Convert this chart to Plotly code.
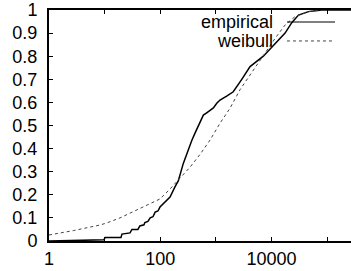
import plotly.graph_objects as go

# Empirical CDF
emp_x = [1, 3.6, 9.7, 10.2, 19.7, 20.5, 28.6, 31, 39.7, 43, 51, 53, 60, 66, 74, 81, 91, 99,
         122, 150, 185, 211, 260, 300, 369, 422, 520, 596, 684, 787, 903, 1038, 1188, 1564,
         2055, 2923, 4121, 7147, 12000, 17570, 23190, 30600, 46300, 80000, 300000]
emp_y = [0.0, 0.002, 0.005, 0.015, 0.015, 0.03, 0.035, 0.05, 0.05, 0.065, 0.07, 0.08, 0.085,
         0.10, 0.105, 0.125, 0.13, 0.147, 0.17, 0.19, 0.235, 0.26, 0.336, 0.38, 0.435, 0.467,
         0.51, 0.545, 0.555, 0.567, 0.576, 0.596, 0.61, 0.627, 0.646, 0.70, 0.755, 0.80,
         0.855, 0.9, 0.945, 0.978, 0.993, 1.0, 1.0]

# Weibull fit
wb_x = [1, 2.74, 8.2, 10.9, 18.9, 43, 99, 150, 223, 344, 520, 787, 1188, 1800, 2720, 4121,
        5400, 7700, 11610, 17570, 26400, 45800, 75000, 140000, 300000]
wb_y = [0.026, 0.045, 0.069, 0.078, 0.10, 0.14, 0.182, 0.225, 0.271, 0.32, 0.375, 0.437,
        0.51, 0.575, 0.655, 0.72, 0.762, 0.812, 0.877, 0.935, 0.971, 0.993, 0.999, 1.0, 1.0]

x_tickvals = [1, 10, 100, 1000, 10000, 100000]
x_ticktext = ["1", "", "100", "", "10000", ""]
y_tickvals = [0, 0.1, 0.2, 0.3, 0.4, 0.5, 0.6, 0.7, 0.8, 0.9, 1]
y_ticktext = ["0", "0.1", "0.2", "0.3", "0.4", "0.5", "0.6", "0.7", "0.8", "0.9", "1"]
legend_names = ["empirical", "weibull"]

fig = go.Figure()
fig.add_trace(go.Scatter(x=emp_x, y=emp_y, mode="lines", name=legend_names[0],
                         line=dict(color="black", width=1.5), showlegend=False))
fig.add_trace(go.Scatter(x=wb_x, y=wb_y, mode="lines", name=legend_names[1],
                         line=dict(color="#444444", width=1, dash="dot"), showlegend=False))

font = dict(family="Liberation Sans, Arial, sans-serif", size=18, color="black")

# gnuplot-style key: text then sample line
key_y = [0.948, 0.866]
styles = [dict(color="black", width=1.2), dict(color="#444444", width=1, dash="dot")]
for name, ky, st in zip(legend_names, key_y, styles):
    fig.add_annotation(x=0.748, y=ky, xref="paper", yref="paper", text=name,
                       showarrow=False, xanchor="right", yanchor="middle", font=font)
    fig.add_shape(type="line", xref="paper", yref="paper", x0=0.788, x1=0.947,
                  y0=ky, y1=ky, line=st)

fig.update_xaxes(type="log", range=[0, 5.43], tickvals=x_tickvals, ticktext=x_ticktext,
                 ticks="inside", ticklen=4, tickcolor="black", showline=True,
                 linecolor="black", linewidth=2, mirror="ticks", showgrid=False,
                 zeroline=False, tickfont=font, ticklabelstandoff=0, automargin=False)
fig.update_yaxes(range=[0, 1], tickvals=y_tickvals, ticktext=y_ticktext,
                 ticks="inside", ticklen=4, tickcolor="black", showline=True,
                 linecolor="black", linewidth=2, showgrid=False, zeroline=False,
                 tickfont=font, ticklabelstandoff=6, automargin=False)
fig.update_layout(width=351, height=271,
                  margin=dict(l=49, r=0, t=10, b=30, autoexpand=False),
                  plot_bgcolor="white", paper_bgcolor="white")
fig.write_html("out.html", config={"displayModeBar": False},
               post_script="document.body.style.margin='0';")
